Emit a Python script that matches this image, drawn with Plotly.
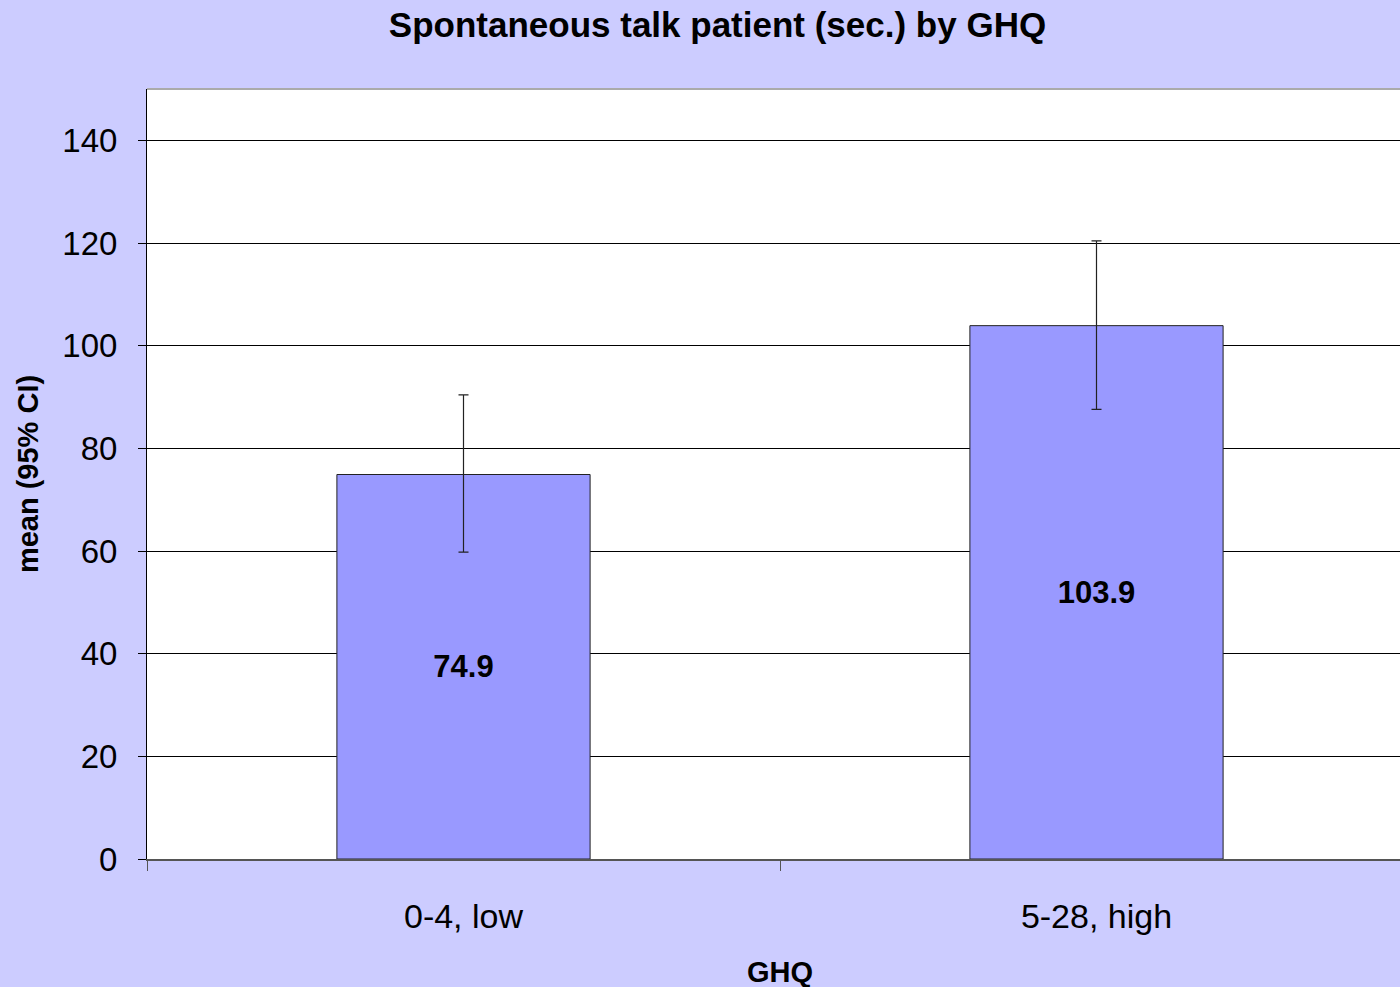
import plotly.graph_objects as go

categories = ["0-4, low", "5-28, high"]
means = [74.9, 103.9]
ci_plus = [15.5, 16.5]
ci_minus = [15.1, 16.3]
y_ticks = [0, 20, 40, 60, 80, 100, 120, 140]

FONT = "Liberation Sans, Arial, sans-serif"
BG = "#CCCCFF"

x_pos = list(range(len(categories)))

fig = go.Figure()
fig.add_trace(go.Bar(
    x=x_pos, y=means, width=0.4,
    marker=dict(color="#9999FF", line=dict(color="#222222", width=1)),
    error_y=dict(type="data", array=ci_plus, arrayminus=ci_minus,
                 color="#222222", thickness=1.2, width=5, visible=True),
    text=[f"<b>{v:.1f}</b>" for v in means],
    textposition="inside", insidetextanchor="middle", textangle=0,
    textfont=dict(family=FONT, size=31, color="black"),
    hoverinfo="skip",
))

fig.update_layout(
    width=1400, height=987,
    paper_bgcolor=BG, plot_bgcolor="white",
    margin=dict(l=147, r=0, t=89, b=128),
    showlegend=False,
    title=dict(text="<b>Spontaneous talk patient (sec.) by GHQ</b>",
               x=0.5125, xanchor="center", xref="container", y=0.975, yanchor="middle",
               font=dict(family=FONT, size=35, color="black")),
    xaxis=dict(
        range=[-0.5, -0.5 + 1253 / 633], tickvals=x_pos, ticktext=categories,
        ticks="", showgrid=False, zeroline=False,
        showline=True, linecolor="#555555", linewidth=2,
        tickfont=dict(family=FONT, size=34, color="black"),
        ticklabelstandoff=26,
        minor=dict(tickmode="array", tickvals=[-0.5, 0.5], ticks="outside",
                   ticklen=10, tickcolor="#555555", tickwidth=1, showgrid=False),
    ),
    yaxis=dict(
        range=[0, 150], tickvals=y_ticks, ticks="outside", ticklen=8,
        tickcolor="black", tickwidth=1,
        showgrid=True, gridcolor="black", gridwidth=1, zeroline=False,
        showline=True, linecolor="black", linewidth=1,
        tickfont=dict(family=FONT, size=33, color="black"),
        ticklabelstandoff=14,
        title=dict(text="<b>mean (95% CI)</b>", font=dict(family=FONT, size=29, color="black"),
                   standoff=15),
    ),
    annotations=[dict(text="<b>GHQ</b>", xref="x", x=0.5, yref="paper", y=-0.1468,
                      xanchor="center", yanchor="middle", showarrow=False,
                      font=dict(family=FONT, size=29, color="black"))],
    shapes=[dict(type="line", xref="paper", yref="paper", x0=0, x1=1, y0=1, y1=1,
                 line=dict(color="#AAAAAA", width=2))],
)

fig.write_html("out.html", config={"displayModeBar": False},
               post_script="document.body.style.margin='0';document.body.style.overflow='hidden';")
